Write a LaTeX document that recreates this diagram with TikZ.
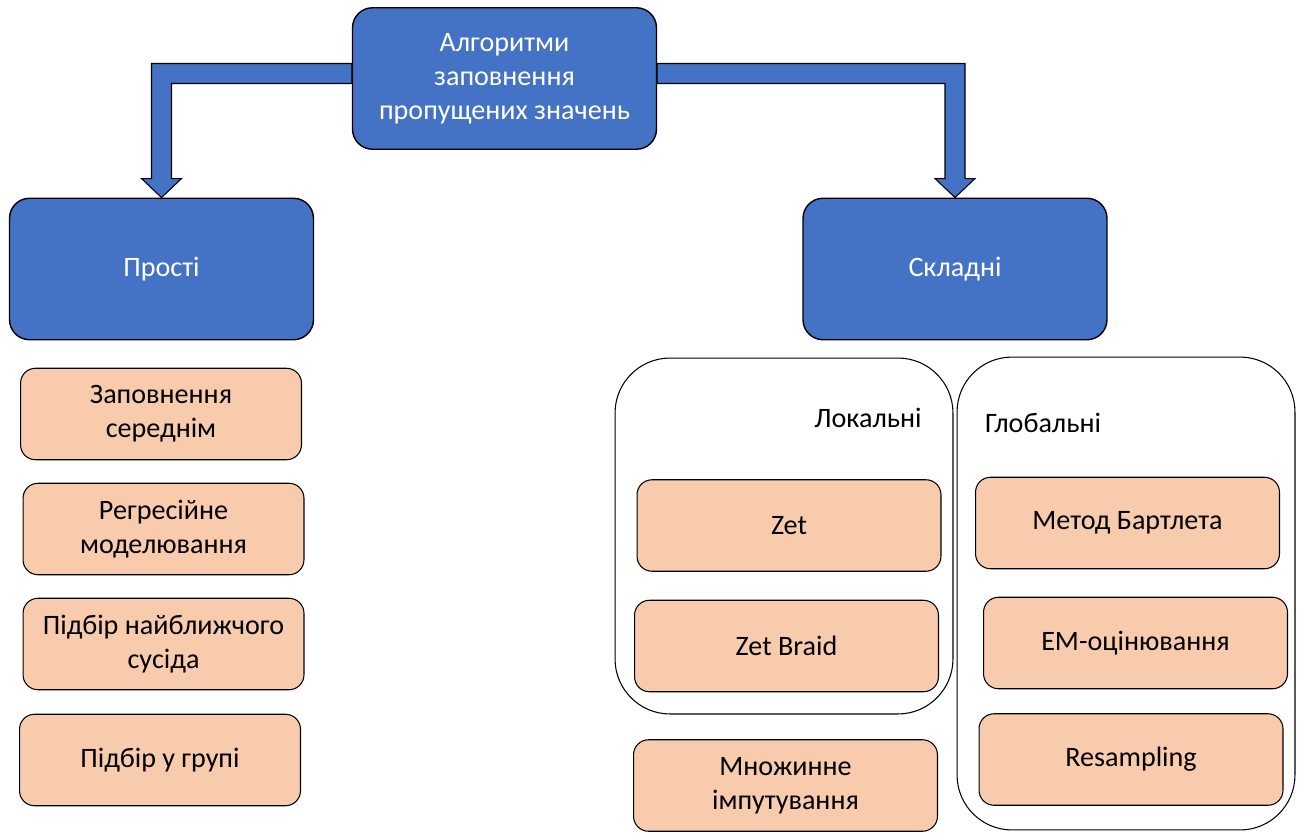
\documentclass[tikz,border=0pt]{standalone}
\usepackage{fontspec}
\setmainfont{Carlito}
\usepackage{xcolor}
\usetikzlibrary{calc,backgrounds}

\definecolor{boxblue}{HTML}{4472C4}
\definecolor{boxpeach}{HTML}{F8CBAD}

\tikzset{
  labelfont/.style={font=\fontsize{16pt}{19.4pt}\selectfont, align=center},
  mainbox/.style={labelfont, draw=black, line width=0.8pt, fill=boxblue, text=white,
    rounded corners=0.4cm, minimum width=6.08cm, minimum height=2.83cm},
  methodbox/.style={labelfont, draw=black, line width=0.6pt, fill=boxpeach,
    rounded corners=0.3cm, minimum width=6.08cm, minimum height=1.83cm},
  groupbox/.style={draw=black, line width=0.6pt, fill=white, rounded corners=1.1cm,
    minimum width=6.76cm},
  blockarrow/.style={draw=black, line width=0.6pt, fill=boxblue}
}

\begin{document}
\begin{tikzpicture}[x=0.02cm, y=-0.02cm]
				\useasboundingbox (0,0) rectangle (1302,832);

				% top level
				\node[mainbox] (top) at (504.5,78.5) {Алгоритми\\заповнення\\пропущених значень};
				\node[mainbox] (prosti) at (161.5,269) {Прості};
				\node[mainbox] (skladni) at (955,269) {Складні};

				% block arrows behind the boxes
				\begin{scope}[on background layer]
				\filldraw[blockarrow] ($(top.west)+(0,-15)$) -| ($(prosti.north)+(-10,-19)$) -- ++(-10,0)
					-- (prosti.north) -- ++(20,-19) -- ++(-10,0) |- ($(top.west)+(0,5)$) -- cycle;
				\filldraw[blockarrow] ($(top.east)+(0,-15)$) -| ($(skladni.north)+(10,-19)$) -- ++(10,0)
					-- (skladni.north) -- ++(-20,-19) -- ++(10,0) |- ($(top.east)+(0,5)$) -- cycle;
				\end{scope}

				% simple methods
				\node[methodbox, minimum width=5.62cm] (mean) at (161,414) {Заповнення\\середнім};
				\node[methodbox, minimum width=5.62cm] (regr) at (163.5,529) {Регресійне\\моделювання};
				\node[methodbox, minimum width=5.62cm] (nearest) at (163.5,644) {Підбір найближчого\\сусіда};
				\node[methodbox, minimum width=5.62cm] (group) at (160,760) {Підбір у групі};

				% complex methods
				\node[groupbox, minimum height=7.12cm] (local) at (784,536) {};
				\node[groupbox, minimum height=9.46cm] (global) at (1126,593.5) {};
				\node[labelfont] (locallbl) at (868,418) {Локальні};
				\node[labelfont] (globallbl) at (1043,423) {Глобальні};

				\node[methodbox] (zet) at (789,525.5) {Zet};
				\node[methodbox] (zetbraid) at (786.5,646) {Zet Braid};
				\node[methodbox] (multi) at (785.5,785.5) {Множинне\\імпутування};

				\node[methodbox] (bartlett) at (1127.5,523) {Метод Бартлета};
				\node[methodbox] (em) at (1135.5,643) {EM-оцінювання};
				\node[methodbox] (resampl) at (1131,759.5) {Resampling};
			\end{tikzpicture}
\end{document}
